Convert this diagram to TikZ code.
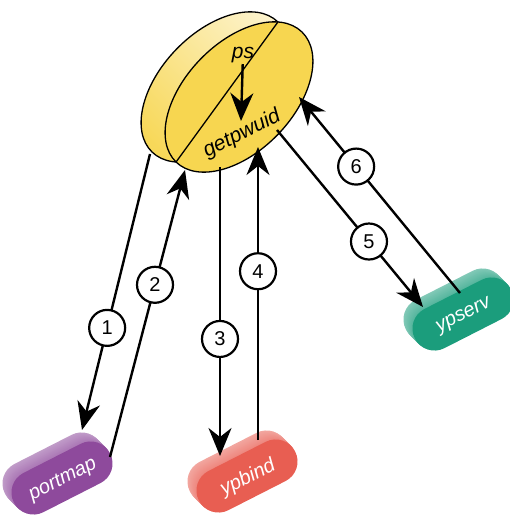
\documentclass[tikz,border=0pt]{standalone}
\usepackage{fontspec}
\setmainfont{Liberation Sans}
\usetikzlibrary{arrows.meta,intersections}
\definecolor{ylw}{RGB}{247,214,80}
\definecolor{pur}{RGB}{142,74,156}
\definecolor{redp}{RGB}{232,94,82}
\definecolor{grn}{RGB}{27,157,124}
\tikzset{
  arr/.style={line width=2.4pt, -{Stealth[length=28pt, width=23pt, inset=9pt]}},
  num/.style={circle, draw, line width=2.2pt, fill=white, minimum size=36pt, inner sep=0pt, font=\fontsize{20}{20}\selectfont},
  pilltext/.style={text=white, font=\fontsize{20}{20}\selectfont\itshape, rotate=27, inner sep=0pt},
  disktext/.style={text=black, font=\fontsize{21}{21}\selectfont\itshape, inner sep=1pt},
  rim/.style={line width=1.3pt, draw=black}
}
\newcommand\mypill[5]{%
  \foreach \k in {10,...,1} {
    \pgfmathsetmacro\shx{#1-0.9*\k}
    \pgfmathsetmacro\shy{#2-0.9*\k}
    \pgfmathtruncatemacro\mix{55+2*(10-\k)}
    \begin{scope}[shift={(\shx,\shy)}, rotate=27]
      \fill[#3!\mix!white, rounded corners=21.9pt] (-54,-22) rectangle (54,22);
    \end{scope}
  }
  \begin{scope}[shift={(#1,#2)}, rotate=27]
    \fill[#3, rounded corners=21.9pt] (-54,-22) rectangle (54,22);
  \end{scope}
  \node[pilltext] (#5) at (#1+1,#2+2) {#4};
}
\begin{document}
\begin{tikzpicture}[x=1pt, y=-1pt]
\useasboundingbox (0,0) rectangle (510,516);

% pills
\mypill{62}{478}{pur}{portmap}{portmap}
\mypill{247}{476}{redp}{ypbind}{ypbind}
\mypill{463}{314}{grn}{ypserv}{ypserv}

% disk
\coordinate (bc) at (215,87);
\coordinate (fc) at (239,97);
\path[name path=backE, rim, top color=ylw!30!white, bottom color=ylw!95!white, shading angle=-46,
      rotate around={46:(bc)}] (bc) ellipse [x radius=90.5, y radius=54];
\path[name path=frontE, rim, fill=ylw, rotate around={46:(fc)}] (fc) ellipse [x radius=90.5, y radius=54];
\path[name intersections={of=backE and frontE, by={i1,i2}}];
\draw[line width=1.3pt] (i1) -- (i2);

\node[disktext] (ps) at (243,55) {ps};
\node[disktext, rotate=27] (gp) at (242,134) {getpwuid};
\coordinate (psTip) at (241,121);
\draw[arr] (ps) -- (psTip);

% connector end points
\coordinate (s1) at (150,154);  \coordinate (t1) at (82,430);
\coordinate (s2) at (110,457);  \coordinate (t2) at (185,170);
\coordinate (s3) at (220,167);  \coordinate (t3) at (220,456);
\coordinate (s4) at (258,440);  \coordinate (t4) at (258,147);
\coordinate (s5) at (277,130);  \coordinate (t5) at (423,307);
\coordinate (s6) at (460,293);  \coordinate (t6) at (299,97);

\draw[arr] (s1) -- node[num, pos=0.63] (n1) {1} (t1);
\draw[arr] (s2) -- node[num, pos=0.60] (n2) {2} (t2);
\draw[arr] (s3) -- node[num, pos=0.595] (n3) {3} (t3);
\draw[arr] (s4) -- node[num, pos=0.576] (n4) {4} (t4);
\draw[arr] (s5) -- node[num, pos=0.63] (n5) {5} (t5);
\draw[arr] (s6) -- node[num, pos=0.645] (n6) {6} (t6);
\end{tikzpicture}
\end{document}
